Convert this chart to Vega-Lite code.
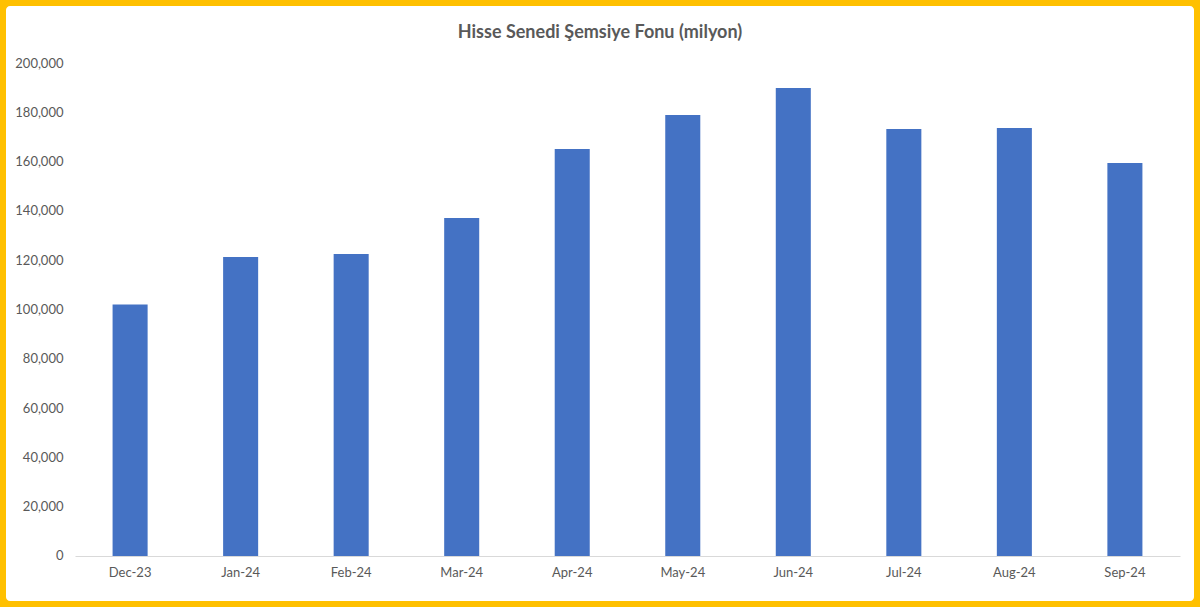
{
  "$schema": "https://vega.github.io/schema/vega-lite/v6.json",
  "width": 1200,
  "height": 607,
  "autosize": {"type": "fit", "contains": "padding"},
  "padding": 6,
  "background": "#FFC000",
  "config": {
    "view": {"fill": "white", "stroke": null, "cornerRadius": 4},
    "font": "Lato"
  },
  "title": {
    "text": "Hisse Senedi Şemsiye Fonu (milyon)",
    "font": "Lato",
    "fontSize": 18,
    "fontWeight": "bold",
    "color": "#595959",
    "anchor": "middle",
    "offset": -36
  },
  "data": {
    "values": [
      {"month": "Dec-23", "value": 102000},
      {"month": "Jan-24", "value": 121300},
      {"month": "Feb-24", "value": 122500},
      {"month": "Mar-24", "value": 137100},
      {"month": "Apr-24", "value": 165100},
      {"month": "May-24", "value": 178900},
      {"month": "Jun-24", "value": 189900},
      {"month": "Jul-24", "value": 173200},
      {"month": "Aug-24", "value": 173600},
      {"month": "Sep-24", "value": 159400}
    ]
  },
  "mark": {"type": "bar", "color": "#4472C4"},
  "encoding": {
    "x": {
      "field": "month",
      "type": "ordinal",
      "sort": null,
      "scale": {"range": [69, 1174], "paddingInner": 0.683, "paddingOuter": 0.34},
      "axis": {
        "title": null,
        "labelAngle": 0,
        "ticks": false,
        "domainColor": "#D9D9D9",
        "offset": -45,
        "labelPadding": 10,
        "labelFontSize": 13,
        "labelColor": "#595959"
      }
    },
    "y": {
      "field": "value",
      "type": "quantitative",
      "scale": {"domain": [-18256, 223124], "nice": false},
      "axis": {
        "title": null,
        "values": [0, 20000, 40000, 60000, 80000, 100000, 120000, 140000, 160000, 180000, 200000],
        "format": ",.0f",
        "domain": false,
        "ticks": false,
        "grid": false,
        "offset": -65,
        "labelPadding": 8,
        "labelFontSize": 13,
        "labelColor": "#595959"
      }
    },
    "y2": {"datum": 0}
  }
}
